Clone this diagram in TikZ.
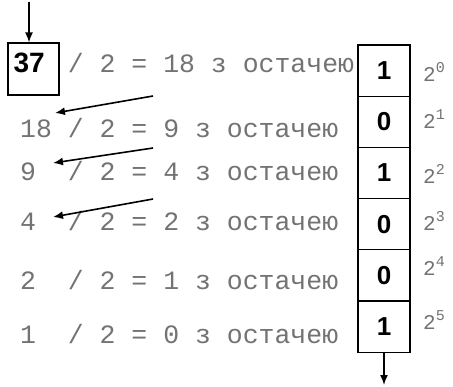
\documentclass[tikz,border=0pt]{standalone}
\usepackage{fontspec}
\setmainfont{Liberation Sans}
\setmonofont{Liberation Mono}
\usetikzlibrary{arrows.meta,positioning}
\newcommand{\powtwo}[1]{2\raisebox{.42em}{\fontsize{15}{15}\selectfont#1}}

\begin{document}
\begin{tikzpicture}[x=1pt,y=-1pt,>={Latex[length=10pt,width=8pt]},node distance=0pt]
  \tikzstyle{cell}=[draw,line width=1.2pt,outer sep=0pt,minimum width=52pt,minimum height=51.2pt,font=\bfseries\fontsize{26}{26}\selectfont]
  \tikzstyle{num}=[anchor=base west,inner sep=0pt,text=black!55,font=\ttfamily\fontsize{26.5}{26.5}\selectfont]
  \tikzstyle{pow}=[inner sep=0pt,text=black!55,font=\ttfamily\fontsize{21}{21}\selectfont]
  \tikzstyle{carry}=[line width=1.6pt,->]
  \fill[white] (0,0) rectangle (453,386);
  \useasboundingbox (0,0) rectangle (453,386);
  \node[draw,line width=1.2pt,minimum width=51pt,minimum height=52pt,inner xsep=5.5pt,text width=40pt,align=left,text height=20pt,text depth=14pt,font=\bfseries\fontsize{28}{28}\selectfont] (n37) at (33.5,69) {37};
  \node[num] (e1) at (67.7,72) {/~2~=~18~з~остачею};
  \node[num] (d2) at (20,137) {18};
  \node[num] (e2) at (67.7,137) {/~2~=~9~з~остачею};
  \node[num] (d3) at (20,180) {9};
  \node[num] (e3) at (67.7,180) {/~2~=~4~з~остачею};
  \node[num] (d4) at (20,230) {4};
  \node[num] (e4) at (67.7,230) {/~2~=~2~з~остачею};
  \node[num] (d5) at (20,289) {2};
  \node[num] (e5) at (67.7,289) {/~2~=~1~з~остачею};
  \node[num] (d6) at (20,343) {1};
  \node[num] (e6) at (67.7,343) {/~2~=~0~з~остачею};
  % частки переносяться на наступний рядок
  \coordinate (t1) at (153,96);  \coordinate (h1) at (55,113);
  \coordinate (t2) at (153,148); \coordinate (h2) at (53,163);
  \coordinate (t3) at (153,199); \coordinate (h3) at (53,217);
  \draw[carry] (t1) -- (h1);
  \draw[carry] (t2) -- (h2);
  \draw[carry] (t3) -- (h3);
  % стовпчик остач
  \node[cell] (b0) at (384,70.6) {1};
  \node[cell,below=of b0] (b1) {0};
  \node[cell,below=of b1] (b2) {1};
  \node[cell,below=of b2] (b3) {0};
  \node[cell,below=of b3] (b4) {0};
  \node[cell,below=of b4] (b5) {1};
  \node[pow] (p0) at (434,72) {\powtwo{0}};
  \node[pow] (p1) at (434,119) {\powtwo{1}};
  \node[pow] (p2) at (434,174) {\powtwo{2}};
  \node[pow] (p3) at (434,221) {\powtwo{3}};
  \node[pow] (p4) at (434,266) {\powtwo{4}};
  \node[pow] (p5) at (434,320) {\powtwo{5}};
  \coordinate (in) at (29,2);
  \coordinate (out) at (384,385);
  \draw[->,line width=1.5pt] (in) -- (in |- n37.north);
  \draw[->,line width=1.5pt] (b5.south) -- (out);
\end{tikzpicture}
\end{document}
